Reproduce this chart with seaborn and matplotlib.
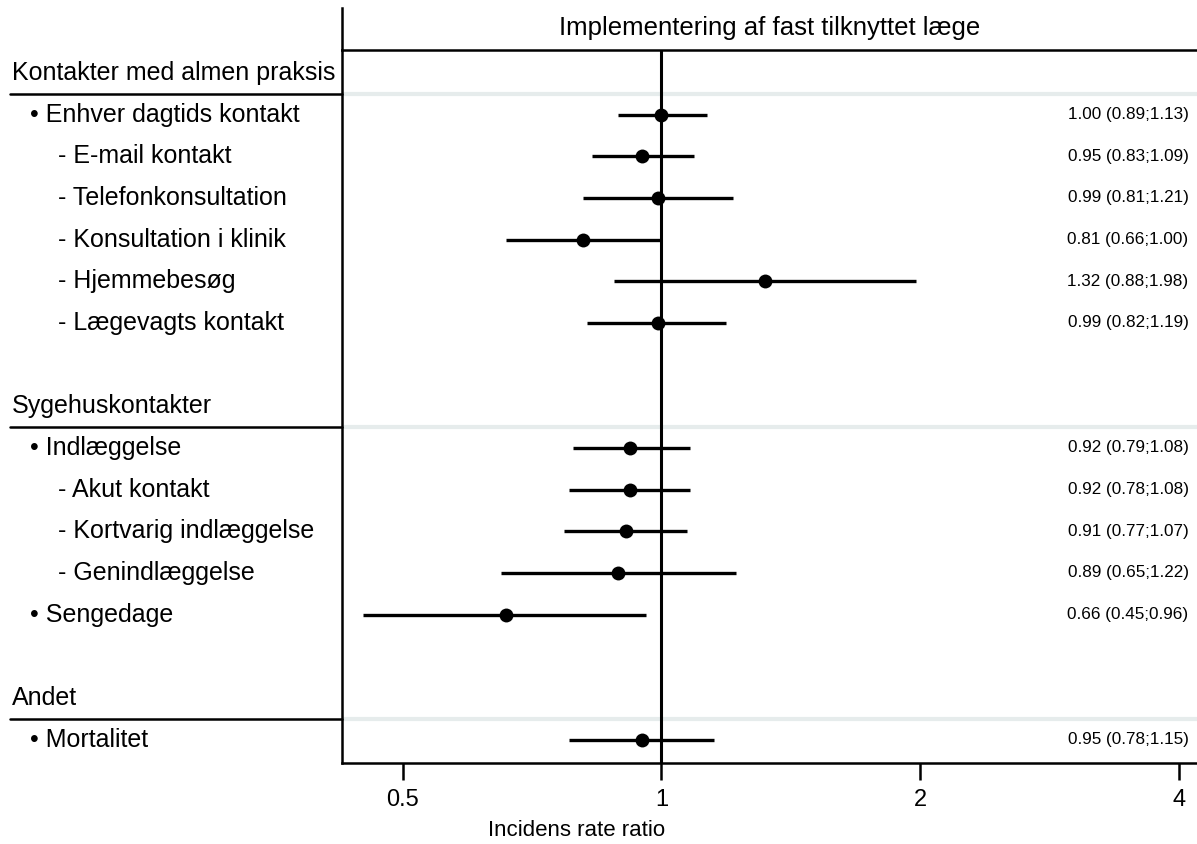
import numpy as np
import pandas as pd
import seaborn as sns
import matplotlib.pyplot as plt
import matplotlib.transforms as mtransforms

sns.set_style("white")
plt.rcParams['font.family'] = ['Liberation Sans', 'DejaVu Sans']
plt.rcParams['text.color'] = 'black'
plt.rcParams['xtick.color'] = 'black'

# grupper og udfald
groups = ["Kontakter med almen praksis", "Sygehuskontakter", "Andet"]
outcomes = [
    ["• Enhver dagtids kontakt", "- E-mail kontakt", "- Telefonkonsultation",
     "- Konsultation i klinik", "- Hjemmebesøg", "- Lægevagts kontakt"],
    ["• Indlæggelse", "- Akut kontakt", "- Kortvarig indlæggelse",
     "- Genindlæggelse", "• Sengedage"],
    ["• Mortalitet"],
]
irr = [1.00, 0.95, 0.99, 0.81, 1.32, 0.99, 0.92, 0.92, 0.91, 0.89, 0.66, 0.95]
lo = [0.89, 0.83, 0.81, 0.66, 0.88, 0.82, 0.79, 0.78, 0.77, 0.65, 0.45, 0.78]
hi = [1.13, 1.09, 1.21, 1.00, 1.98, 1.19, 1.08, 1.08, 1.07, 1.22, 0.96, 1.15]
xticks = [0.5, 1, 2, 4]
title = "Implementering af fast tilknyttet læge"
xlab = "Incidens rate ratio"

# rækkepositioner: overskrift, udfald, tom linje
rows, labels, head_pos = [], [], []
pos = 0
for g, outs in zip(groups, outcomes):
    head_pos.append(pos)
    pos += 1
    for o in outs:
        rows.append(pos)
        labels.append(o)
        pos += 1
    pos += 1

df = pd.DataFrame({'label': labels, 'y': rows, 'irr': irr, 'lo': lo, 'hi': hi})

fig = plt.figure(figsize=(11.97, 8.44), dpi=100)
ax = fig.add_axes([342 / 1197, 1 - 763 / 844, 1 - 342 / 1197, (763 - 50) / 844])
hax = fig.add_axes([342 / 1197, 1 - 50 / 844, 1 - 342 / 1197, 42 / 844])

# overskriftsboks
hax.set_xticks([])
hax.set_yticks([])
for s in ['top', 'right']:
    hax.spines[s].set_visible(False)
for s in ['left', 'bottom']:
    hax.spines[s].set_linewidth(1.8)
    hax.spines[s].set_color('black')
hax.text(0.5, 0.52, title, ha='center', va='center', fontsize=18.5, transform=hax.transAxes)

ax.set_xscale('log')
ax.set_xlim(0.425, 4.2)
ax.set_ylim(16.56, -0.55)

for h in head_pos:
    ax.axhline(h + 0.5, color='#e6ecec', lw=3, zorder=0)

ax.axvline(1, color='black', lw=2.2, zorder=1)
ax.hlines(df['y'], df['lo'], df['hi'], color='black', lw=2.4, zorder=2)
sns.scatterplot(data=df, x='irr', y='y', ax=ax, color='black', s=100,
                edgecolor='black', linewidth=0, zorder=3, legend=False)

tr = mtransforms.blended_transform_factory(fig.transFigure, ax.transData)

# estimater til højre
for _, r in df.iterrows():
    ax.text(0.993, r['y'], f"{r['irr']:.2f} ({r['lo']:.2f};{r['hi']:.2f})",
            transform=tr, ha='right', va='center', fontsize=12.3)

# etiketter til venstre
for g, h in zip(groups, head_pos):
    ax.text(12 / 1197, h, g, transform=tr, ha='left', va='center', fontsize=18)
    ax.plot([10 / 1197, 342 / 1197], [h + 0.5, h + 0.5], transform=tr,
            color='black', lw=1.8, clip_on=False)
for _, r in df.iterrows():
    x0 = 30 if r['label'].startswith('•') else 58
    ax.text(x0 / 1197, r['y'], r['label'], transform=tr, ha='left', va='center', fontsize=18)

ax.set_xticks(xticks)
ax.set_xticklabels([str(t) for t in xticks], fontsize=17)
ax.minorticks_off()
ax.set_yticks([])
ax.tick_params(axis='x', direction='out', length=12, width=1.8, pad=7, bottom=True)
ax.set_xlabel('')
ax.set_ylabel('')
fig.text(577 / 1197, 1 - 830 / 844, xlab, ha='center', va='center', fontsize=16)

ax.spines['right'].set_visible(False)
ax.spines['top'].set_visible(False)
for s in ['left', 'bottom']:
    ax.spines[s].set_linewidth(1.8)
    ax.spines[s].set_color('black')

fig.savefig('out.png', dpi=100)
